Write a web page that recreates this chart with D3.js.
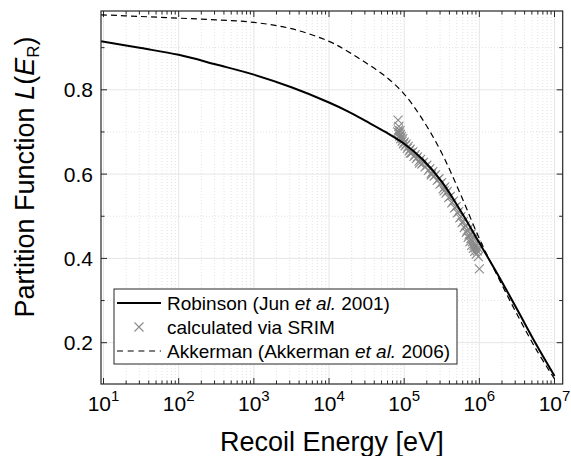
<!DOCTYPE html>
<html>
<head>
<meta charset="utf-8">
<script src="https://cdn.jsdelivr.net/npm/d3@7"></script>
<style>
  html, body { margin: 0; padding: 0; background: #fff; }
  svg { display: block; font-family: "Liberation Sans", Arial, sans-serif; }
</style>
</head>
<body>
<svg id="chart" width="571" height="456"></svg>
<script>
// ---- Data ----
const curveE = [9.26, 31.6, 100, 316, 1000, 3162, 1e4, 1.78e4, 3.16e4, 5.62e4, 1e5, 1.78e5, 3.16e5, 5.62e5, 1e6, 1.78e6, 3.16e6, 5.62e6, 1e7];
const robinsonL = [0.915, 0.899, 0.883, 0.860, 0.836, 0.806, 0.770, 0.749, 0.725, 0.700, 0.672, 0.634, 0.582, 0.513, 0.437, 0.360, 0.280, 0.198, 0.121];
const akkermanL = [0.978, 0.974, 0.970, 0.966, 0.960, 0.945, 0.915, 0.891, 0.863, 0.832, 0.790, 0.728, 0.650, 0.552, 0.447, 0.355, 0.268, 0.186, 0.114];

const srimE = [8.2e4, 8.3e4, 8.4e4, 8.5e4, 8.6e4, 8.7e4, 8.8e4, 8.9e4, 9.0e4, 9.2e4, 9.4e4, 9.6e4, 9.8e4,
  1.0e5, 1.03e5, 1.06e5, 1.1e5, 1.13e5, 1.17e5, 1.2e5, 1.25e5, 1.3e5, 1.35e5, 1.4e5, 1.45e5,
  1.5e5, 1.58e5, 1.65e5, 1.72e5, 1.8e5, 1.9e5, 2.0e5, 2.1e5, 2.2e5, 2.3e5, 2.4e5, 2.5e5,
  2.6e5, 2.75e5, 2.9e5, 3.0e5, 3.15e5, 3.3e5, 3.45e5, 3.6e5, 3.75e5, 3.9e5, 4.1e5, 4.3e5,
  4.5e5, 4.7e5, 4.9e5, 5.1e5, 5.3e5, 5.5e5, 5.7e5, 5.9e5, 6.1e5, 6.3e5, 6.5e5, 6.7e5,
  6.9e5, 7.1e5, 7.3e5, 7.5e5, 7.7e5, 7.9e5, 8.1e5, 8.3e5, 8.5e5, 8.7e5, 8.9e5, 9.1e5,
  9.4e5, 9.7e5, 1.0e6, 7.2e5, 7.8e5, 8.4e5, 9.0e5, 9.6e5, 1.2e5, 1.6e5, 2.3e5, 3.4e5];
const srimL = [0.700, 0.728, 0.705, 0.713, 0.698, 0.690, 0.703, 0.694, 0.684, 0.689, 0.678, 0.684, 0.672,
  0.676, 0.667, 0.671, 0.661, 0.666, 0.655, 0.659, 0.650, 0.653, 0.642, 0.646, 0.637,
  0.641, 0.631, 0.635, 0.624, 0.628, 0.617, 0.621, 0.609, 0.613, 0.602, 0.606, 0.595,
  0.598, 0.585, 0.589, 0.576, 0.580, 0.565, 0.569, 0.555, 0.559, 0.544, 0.547, 0.532,
  0.536, 0.520, 0.523, 0.508, 0.511, 0.496, 0.499, 0.485, 0.487, 0.473, 0.477, 0.462,
  0.466, 0.450, 0.456, 0.440, 0.447, 0.431, 0.439, 0.424, 0.431, 0.417, 0.425, 0.410,
  0.418, 0.404, 0.375, 0.470, 0.458, 0.448, 0.432, 0.425, 0.650, 0.626, 0.598, 0.560];

const yMajorTicks = [0.2, 0.4, 0.6, 0.8];
const yMinorTicks = [0.3, 0.5, 0.7, 0.9];
const xDecades = [1e1, 1e2, 1e3, 1e4, 1e5, 1e6, 1e7];
const xExponents = ["1", "2", "3", "4", "5", "6", "7"];
const legendLabels = [
  [{t: "Robinson (Jun "}, {t: "et al.", i: true}, {t: " 2001)"}],
  [{t: "calculated via SRIM"}],
  [{t: "Akkerman (Akkerman "}, {t: "et al.", i: true}, {t: " 2006)"}]
];

// ---- Layout ----
const L = 101, R = 562.7, T = 11, B = 384;
const svg = d3.select("#chart");
const x = d3.scaleLog().domain([9.26, 1.285e7]).range([L, R]);
const y = d3.scaleLinear().domain([0.102, 0.987]).range([B, T]);

const xMinor = [];
xDecades.forEach(d => { for (let k = 2; k <= 9; k++) { const v = d * k; if (v < x.domain()[1]) xMinor.push(v); } });

const axisCol = "#262626";

// grid
const g = svg.append("g");
g.selectAll(".xmg").data(xMinor).join("line")
  .attr("x1", d => x(d)).attr("x2", d => x(d)).attr("y1", T).attr("y2", B)
  .attr("stroke", "#dcdcdc").attr("stroke-width", 0.8).attr("stroke-dasharray", "1,2");
g.selectAll(".ymg").data(yMinorTicks).join("line")
  .attr("y1", d => y(d)).attr("y2", d => y(d)).attr("x1", L).attr("x2", R)
  .attr("stroke", "#dcdcdc").attr("stroke-width", 0.8).attr("stroke-dasharray", "1,2");
g.selectAll(".xg").data(xDecades).join("line")
  .attr("x1", d => x(d)).attr("x2", d => x(d)).attr("y1", T).attr("y2", B)
  .attr("stroke", "#e6e6e6").attr("stroke-width", 1);
g.selectAll(".yg").data(yMajorTicks).join("line")
  .attr("y1", d => y(d)).attr("y2", d => y(d)).attr("x1", L).attr("x2", R)
  .attr("stroke", "#e6e6e6").attr("stroke-width", 1);

// ticks (inside, mirrored)
const tk = svg.append("g").attr("stroke", axisCol).attr("stroke-width", 1);
const addX = (vals, len) => vals.forEach(v => {
  tk.append("line").attr("x1", x(v)).attr("x2", x(v)).attr("y1", B).attr("y2", B - len);
  tk.append("line").attr("x1", x(v)).attr("x2", x(v)).attr("y1", T).attr("y2", T + len);
});
const addY = (vals, len) => vals.forEach(v => {
  tk.append("line").attr("y1", y(v)).attr("y2", y(v)).attr("x1", L).attr("x2", L + len);
  tk.append("line").attr("y1", y(v)).attr("y2", y(v)).attr("x1", R).attr("x2", R - len);
});
addX(xDecades, 6); addX(xMinor, 3.5);
addY(yMajorTicks, 6); addY(yMinorTicks, 3.5);

// SRIM markers
const ms = 4.5;
svg.append("g").selectAll("path").data(srimE.map((e, i) => [e, srimL[i]])).join("path")
  .attr("d", d => { const cx = x(d[0]), cy = y(d[1]);
    return `M${cx-ms},${cy-ms}L${cx+ms},${cy+ms}M${cx-ms},${cy+ms}L${cx+ms},${cy-ms}`; })
  .attr("stroke", "#8a8a8a").attr("stroke-width", 1.1).attr("fill", "none");

// curves
const line = d3.line().x(d => x(d[0])).y(d => y(d[1])).curve(d3.curveCatmullRom.alpha(0.5));
svg.append("path").datum(curveE.map((e, i) => [e, akkermanL[i]]))
  .attr("d", line).attr("fill", "none").attr("stroke", "#000").attr("stroke-width", 1.2)
  .attr("stroke-dasharray", "6,4");
svg.append("path").datum(curveE.map((e, i) => [e, robinsonL[i]]))
  .attr("d", line).attr("fill", "none").attr("stroke", "#000").attr("stroke-width", 2);

// frame
svg.append("rect").attr("x", L).attr("y", T).attr("width", R - L).attr("height", B - T)
  .attr("fill", "none").attr("stroke", axisCol).attr("stroke-width", 1.2);

// y tick labels
svg.append("g").selectAll("text").data(yMajorTicks).join("text")
  .attr("x", L - 8).attr("y", d => y(d)).attr("dy", "0.36em")
  .attr("text-anchor", "end").attr("font-size", 21).attr("fill", "#000")
  .text(d => d.toFixed(1));

// x tick labels with superscripts
xDecades.forEach((d, i) => {
  const t = svg.append("text").attr("x", x(d)).attr("y", 411)
    .attr("text-anchor", "middle").attr("font-size", 21).attr("fill", "#000");
  t.append("tspan").text("10");
  t.append("tspan").attr("font-size", 15).attr("dy", -10).text(xExponents[i]);
});

// axis titles
svg.append("text").attr("x", (L + R) / 2).attr("y", 451).attr("text-anchor", "middle")
  .attr("font-size", 27).attr("fill", "#000").text("Recoil Energy [eV]");
const yt = svg.append("text").attr("transform", "translate(34,177) rotate(-90)")
  .attr("text-anchor", "middle").attr("font-size", 27).attr("fill", "#000");
yt.append("tspan").text("Partition Function ");
yt.append("tspan").attr("font-style", "italic").text("L");
yt.append("tspan").text("(");
yt.append("tspan").attr("font-style", "italic").text("E");
yt.append("tspan").attr("font-size", 17).attr("dy", 5).text("R");
yt.append("tspan").attr("dy", -5).text(")");

// legend
const lg = svg.append("g");
lg.append("rect").attr("x", 114).attr("y", 289).attr("width", 343).attr("height", 75)
  .attr("fill", "#fff").attr("stroke", axisCol).attr("stroke-width", 1);
const rowY = [303, 327, 351];
lg.append("line").attr("x1", 117).attr("x2", 161).attr("y1", rowY[0]).attr("y2", rowY[0])
  .attr("stroke", "#000").attr("stroke-width", 2);
lg.append("path").attr("d", `M${139-ms},${rowY[1]-ms}L${139+ms},${rowY[1]+ms}M${139-ms},${rowY[1]+ms}L${139+ms},${rowY[1]-ms}`)
  .attr("stroke", "#8a8a8a").attr("stroke-width", 1.1);
lg.append("line").attr("x1", 117).attr("x2", 161).attr("y1", rowY[2]).attr("y2", rowY[2])
  .attr("stroke", "#000").attr("stroke-width", 1.2).attr("stroke-dasharray", "6,4.7");
legendLabels.forEach((parts, i) => {
  const t = lg.append("text").attr("x", 167).attr("y", rowY[i]).attr("dy", "0.35em")
    .attr("font-size", 19).attr("fill", "#000");
  parts.forEach(p => t.append("tspan").attr("font-style", p.i ? "italic" : null).text(p.t));
});
</script>
</body>
</html>
